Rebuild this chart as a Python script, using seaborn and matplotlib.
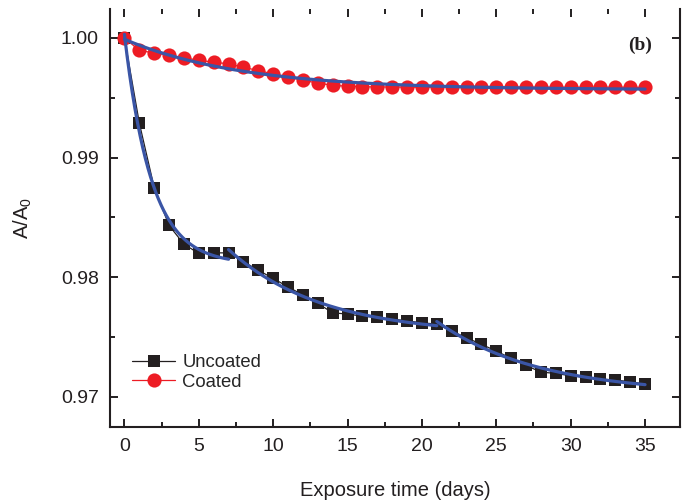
import numpy as np
import pandas as pd
import matplotlib
matplotlib.use("Agg")
import matplotlib.pyplot as plt
from matplotlib.ticker import MultipleLocator
from matplotlib.lines import Line2D
import seaborn as sns

# ---------------- data ----------------
days = list(range(0, 36))
uncoated = [1.00000, 0.99289, 0.98749, 0.98432, 0.98276, 0.98198, 0.98203, 0.98203,
            0.98130, 0.98058, 0.97989, 0.97919, 0.97850, 0.97780, 0.97702, 0.97691,
            0.97674, 0.97663, 0.97649, 0.97635, 0.97618, 0.97607, 0.97549, 0.97493,
            0.97438, 0.97382, 0.97320, 0.97262, 0.97206, 0.97195, 0.97175, 0.97162,
            0.97148, 0.97140, 0.97125, 0.97106]
coated = [1.00000, 0.99896, 0.99874, 0.99855, 0.99835, 0.99813, 0.99798, 0.99783,
          0.99755, 0.99727, 0.99700, 0.99675, 0.99646, 0.99623, 0.99604, 0.99596,
          0.99592, 0.99590, 0.99590, 0.99588, 0.99588, 0.99588, 0.99588, 0.99588,
          0.99588, 0.99588, 0.99588, 0.99588, 0.99588, 0.99588, 0.99588, 0.99588,
          0.99588, 0.99588, 0.99588, 0.99586]
# fitted segments of the uncoated curve (start day, end day)
uncoated_segments = [(0, 7), (7, 21), (21, 35)]
series_labels = ["Uncoated", "Coated"]
xticks = [0, 5, 10, 15, 20, 25, 30, 35]
yticks = [0.97, 0.98, 0.99, 1.00]

# ---------------- helpers ----------------
def exp_fit(x, y, xs):
    x = np.asarray(x, float); y = np.asarray(y, float)
    best = None
    for t in np.linspace(0.3, 60, 3000):
        e = np.exp(-(x - x[0]) / t)
        M = np.column_stack([np.ones_like(e), e])
        coef, *_ = np.linalg.lstsq(M, y, rcond=None)
        r = np.sum((M @ coef - y) ** 2)
        if best is None or r < best[0]:
            best = (r, t, coef)
    _, t, coef = best
    return coef[0] + coef[1] * np.exp(-(xs - x[0]) / t)

# ---------------- figure ----------------
sns.set_style("ticks")
plt.rcParams["font.family"] = ["Liberation Sans", "DejaVu Sans"]

fig = plt.figure(figsize=(6.86, 5.0), dpi=100)
ax = fig.add_axes([110 / 686, 73 / 500, 570 / 686, 418 / 500])

df = pd.DataFrame({"day": days, "Uncoated": uncoated, "Coated": coated})

black = "#231f20"
red = "#ed1c24"
blue = "#3a55a6"

sq_ms, ci_ms = 9.0, 10.2

sns.lineplot(data=df, x="day", y="Uncoated", ax=ax, color=black, lw=0.9,
             marker="s", markersize=sq_ms, markeredgewidth=0, zorder=3)
sns.lineplot(data=df, x="day", y="Coated", ax=ax, color=red, lw=0.9,
             marker="o", markersize=ci_ms, markeredgewidth=0, zorder=3)

# fits
xs_c = np.linspace(0, 35, 300)
fit_c = exp_fit(days, coated, xs_c)
sns.lineplot(x=xs_c, y=fit_c, ax=ax, color=blue, lw=2.3, zorder=4)
for a, b in uncoated_segments:
    xx = np.array(days[a:b + 1], float)
    yy = np.array(uncoated[a:b + 1], float)
    xs = np.linspace(a, b, 200)
    sns.lineplot(x=xs, y=exp_fit(xx, yy, xs), ax=ax, color=blue, lw=2.3, zorder=4)

# axes
ax.set_xlim(-0.97, 37.35)
ax.set_ylim(0.96747, 1.00242)
ax.set_xticks(xticks)
ax.set_xticklabels([str(t) for t in xticks])
ax.set_yticks(yticks)
ax.set_yticklabels([f"{t:.2f}" for t in yticks])
ax.xaxis.set_minor_locator(MultipleLocator(2.5))
ax.yaxis.set_minor_locator(MultipleLocator(0.005))
ax.tick_params(which="both", direction="in", top=True, right=True,
               labeltop=False, labelright=False, colors=black, width=1.4)
ax.tick_params(which="major", length=6, labelsize=14, pad=8)
ax.tick_params(which="minor", length=3.5)
for s in ax.spines.values():
    s.set_linewidth(1.5)
    s.set_color(black)
ax.spines["top"].set_visible(False)

ax.set_xlabel("Exposure time (days)", fontsize=14.5, color=black, labelpad=19)
ax.set_ylabel("A/A$_\\mathregular{0}$", fontsize=14.5, color=black, labelpad=19)

ax.text(35.45, 0.99938, "(b)", fontsize=14, fontweight="bold",
        family=["Liberation Serif", "DejaVu Serif"], ha="right", va="center", color=black)

handles = [Line2D([], [], color=black, lw=0.9, marker="s", markersize=sq_ms, markeredgewidth=0),
           Line2D([], [], color=red, lw=0.9, marker="o", markersize=ci_ms, markeredgewidth=0)]
ax.legend(handles, series_labels, loc="lower left", bbox_to_anchor=(0.02, 0.06),
          frameon=False, fontsize=13.3, handlelength=2.3, handletextpad=0.4,
          labelspacing=0.15, borderaxespad=0.2)

fig.savefig("out.png", dpi=100)
